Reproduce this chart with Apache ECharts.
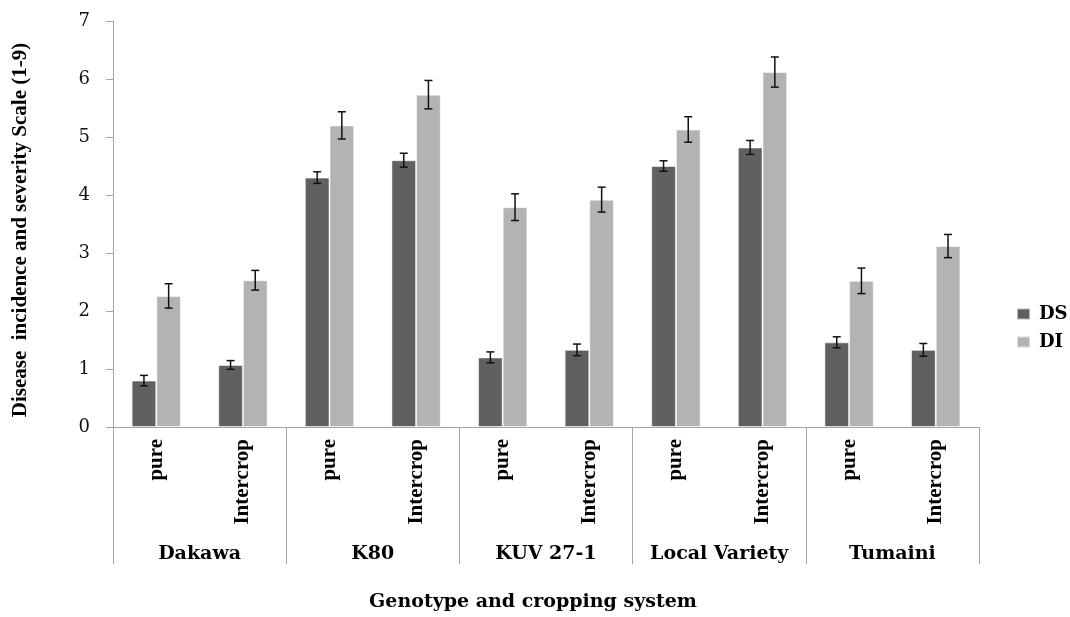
<!DOCTYPE html>
<html>
<head>
<meta charset="utf-8">
<script src="https://cdn.jsdelivr.net/npm/echarts@6/dist/echarts.min.js"></script>
<style>
  html, body { margin: 0; padding: 0; background: #ffffff; }
  #chart { width: 1070px; height: 617px; }
</style>
</head>
<body>
<div id="chart"></div>
<script>
// Genotypes (outer axis groups) and cropping systems (inner categories)
const genotypes = ['Dakawa', 'K80', 'KUV 27-1', 'Local Variety', 'Tumaini'];
const systems = ['pure', 'Intercrop'];

// Mean scores per genotype × cropping system, in group order
const dsValues = [0.80, 1.07, 4.30, 4.60, 1.20, 1.33, 4.50, 4.82, 1.46, 1.33];
const diValues = [2.26, 2.53, 5.20, 5.73, 3.79, 3.92, 5.13, 6.12, 2.52, 3.12];

// Standard errors shown as whiskers
const dsErrors = [0.09, 0.075, 0.10, 0.12, 0.095, 0.10, 0.09, 0.12, 0.095, 0.11];
const diErrors = [0.21, 0.17, 0.235, 0.245, 0.23, 0.215, 0.22, 0.26, 0.22, 0.20];

const yTicks = { min: 0, max: 7, interval: 1 };

const innerCategories = [];
genotypes.forEach(() => systems.forEach(s => innerCategories.push(s)));

const SERIF = '"Liberation Serif", "Times New Roman", serif';
const WIDE_SERIF = '"DejaVu Serif", serif';
const AXIS_GREY = '#a6a6a6';
const CAT_GAP = 0.43;

// Whisker drawn at the centre of one bar within the pair (side -1 = left, +1 = right)
function errorBar(side) {
  return function (params, api) {
    const xi = api.value(0);
    const v = api.value(1);
    const e = api.value(2);
    const cw = api.size([1, 0])[0];
    const bw = cw * (1 - CAT_GAP) / 2;
    const off = side * bw / 2;
    const hi = api.coord([xi, v + e]);
    const lo = api.coord([xi, v - e]);
    const x = hi[0] + off;
    const cap = 4;
    const style = { stroke: '#111', lineWidth: 1.5 };
    return {
      type: 'group',
      children: [
        { type: 'line', shape: { x1: x, y1: hi[1], x2: x, y2: lo[1] }, style },
        { type: 'line', shape: { x1: x - cap, y1: hi[1], x2: x + cap, y2: hi[1] }, style },
        { type: 'line', shape: { x1: x - cap, y1: lo[1], x2: x + cap, y2: lo[1] }, style }
      ]
    };
  };
}

const chart = echarts.init(document.getElementById('chart'), null, { renderer: 'canvas' });

chart.setOption({
  animation: false,
  backgroundColor: '#ffffff',
  grid: { left: 113, right: 91, top: 21, bottom: 189, containLabel: false },
  legend: {
    orient: 'vertical',
    left: 1011,
    top: 300,
    itemWidth: 13,
    itemHeight: 11,
    itemGap: 10,
    icon: 'rect',
    data: ['DS', 'DI'],
    textStyle: { fontFamily: WIDE_SERIF, fontWeight: 'bold', fontSize: 18, color: '#000', padding: [0, 0, 0, 4] }
  },
  xAxis: [
    {
      type: 'category',
      data: innerCategories,
      position: 'bottom',
      axisLine: { show: true, lineStyle: { color: AXIS_GREY, width: 1 } },
      axisTick: { show: false },
      axisLabel: {
        rotate: 90,
        margin: 12,
        interval: 0,
        fontFamily: SERIF,
        fontWeight: 'bold',
        fontSize: 21,
        color: '#000'
      }
    },
    {
      type: 'category',
      data: genotypes,
      position: 'bottom',
      axisLine: { show: false },
      axisTick: { show: true, length: 137, lineStyle: { color: AXIS_GREY, width: 1 } },
      axisLabel: {
        margin: 118,
        interval: 0,
        fontFamily: WIDE_SERIF,
        fontWeight: 'bold',
        fontSize: 19,
        color: '#000'
      },
      name: 'Genotype and cropping system',
      nameLocation: 'middle',
      nameGap: 166,
      nameTextStyle: {
        fontFamily: WIDE_SERIF,
        fontWeight: 'bold',
        fontSize: 19,
        color: '#000',
        padding: [0, 26, 0, 0]
      }
    }
  ],
  yAxis: {
    type: 'value',
    min: yTicks.min,
    max: yTicks.max,
    interval: yTicks.interval,
    axisLine: { show: true, lineStyle: { color: AXIS_GREY, width: 1 } },
    axisTick: { show: true, length: 7, lineStyle: { color: AXIS_GREY } },
    splitLine: { show: false },
    axisLabel: { margin: 23, fontFamily: WIDE_SERIF, fontSize: 18, color: '#111' },
    name: 'Disease  incidence and severity Scale (1-9)',
    nameLocation: 'middle',
    nameGap: 82,
    nameTextStyle: { fontFamily: SERIF, fontWeight: 'bold', fontSize: 21, color: '#000', padding: [0, 12, 0, 0] }
  },
  series: [
    {
      name: 'DS',
      type: 'bar',
      xAxisIndex: 0,
      data: dsValues,
      barGap: '0%',
      barCategoryGap: (CAT_GAP * 100) + '%',
      itemStyle: { color: '#606060', borderColor: 'rgba(255,255,255,0.55)', borderWidth: 1 }
    },
    {
      name: 'DI',
      type: 'bar',
      xAxisIndex: 0,
      data: diValues,
      barGap: '0%',
      barCategoryGap: (CAT_GAP * 100) + '%',
      itemStyle: { color: '#b3b3b3', borderColor: 'rgba(255,255,255,0.55)', borderWidth: 1 }
    },
    {
      name: 'DS',
      type: 'custom',
      xAxisIndex: 0,
      renderItem: errorBar(-1),
      data: dsValues.map((v, i) => [i, v, dsErrors[i]]),
      encode: { x: 0, y: 1 },
      z: 5
    },
    {
      name: 'DI',
      type: 'custom',
      xAxisIndex: 0,
      renderItem: errorBar(1),
      data: diValues.map((v, i) => [i, v, diErrors[i]]),
      encode: { x: 0, y: 1 },
      z: 5
    }
  ]
});
</script>
</body>
</html>
